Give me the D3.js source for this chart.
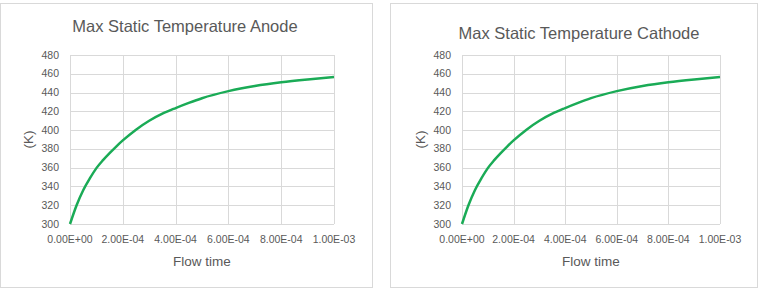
<!DOCTYPE html>
<html>
<head>
<meta charset="utf-8">
<script src="https://cdn.jsdelivr.net/npm/d3@7"></script>
<style>
    body { margin: 0; background: #fff; }
    svg { display: block; }
    text { font-family: "Liberation Sans", Arial, sans-serif; fill: #595959; }
</style>
</head>
<body>
<div id="chart"></div>
<script>
// flow time (s) and max static temperature (K)
const flowTime = [0, 0.25e-4, 0.5e-4, 0.75e-4, 1e-4, 1.25e-4, 1.5e-4, 1.75e-4, 2e-4, 2.5e-4,
    3e-4, 3.5e-4, 4e-4, 4.5e-4, 5e-4, 6e-4, 7e-4, 8e-4, 9e-4, 1e-3];
const anodeTemp = [300, 320, 336, 348.5, 359.5, 368, 375.5, 382.5, 389, 400.5,
    410, 417.5, 423.5, 429, 434, 441.5, 447, 451, 454, 456.5];
const cathodeTemp = [300, 320, 336, 348.5, 359.5, 368, 375.5, 382.5, 389, 400.5,
    410, 417.5, 423.5, 429, 434, 441.5, 447, 451, 454, 456.5];

const xTicks = [0, 2e-4, 4e-4, 6e-4, 8e-4, 1e-3];
const yTicks = [300, 320, 340, 360, 380, 400, 420, 440, 460, 480];

const gridColor = "#d9d9d9";
const lineColor = "#1aab56";

const svg = d3.select("#chart").append("svg")
    .attr("width", 762)
    .attr("height", 292);

function drawPanel(cfg) {
    // outer chart box
    svg.append("rect")
        .attr("x", cfg.box[0] + 0.5)
        .attr("y", cfg.box[1] + 0.5)
        .attr("width", cfg.box[2])
        .attr("height", cfg.box[3])
        .attr("fill", "#fff")
        .attr("stroke", gridColor);

    let x = d3.scaleLinear().domain([0, 1e-3]).range([cfg.left, cfg.right]);
    let y = d3.scaleLinear().domain([300, 480]).range([cfg.bottom, cfg.top]);

    let g = svg.append("g");

    // gridlines
    g.selectAll(".hgrid").data(yTicks).enter().append("line")
        .attr("x1", cfg.left).attr("x2", cfg.right)
        .attr("y1", d => Math.round(y(d)) + 0.5).attr("y2", d => Math.round(y(d)) + 0.5)
        .attr("stroke", gridColor);
    g.selectAll(".vgrid").data(xTicks).enter().append("line")
        .attr("y1", cfg.top).attr("y2", cfg.bottom)
        .attr("x1", d => Math.round(x(d)) + 0.5).attr("x2", d => Math.round(x(d)) + 0.5)
        .attr("stroke", gridColor);

    // tick labels
    g.selectAll(".ylab").data(yTicks).enter().append("text")
        .attr("x", cfg.left - 11)
        .attr("y", d => y(d) + 3.6)
        .attr("text-anchor", "end")
        .attr("font-size", 10.5)
        .text(d => d);
    g.selectAll(".xlab").data(xTicks).enter().append("text")
        .attr("x", d => x(d))
        .attr("y", cfg.bottom + 19)
        .attr("text-anchor", "middle")
        .attr("font-size", 10.5)
        .text(d => d3.format(".2e")(d).toUpperCase().replace(/E([+-])(\d)$/, "E$10$2"));

    // the curve
    let line = d3.line()
        .x((d, i) => x(flowTime[i]))
        .y(d => y(d))
        .curve(d3.curveMonotoneX);
    g.append("path")
        .datum(cfg.values)
        .attr("d", line)
        .attr("fill", "none")
        .attr("stroke", lineColor)
        .attr("stroke-width", 2.5);

    // titles
    svg.append("text")
        .attr("x", cfg.titleX)
        .attr("y", cfg.titleY)
        .attr("text-anchor", "middle")
        .attr("font-size", 16.5)
        .text(cfg.title);
    svg.append("text")
        .attr("x", (cfg.left + cfg.right) / 2)
        .attr("y", cfg.bottom + 42)
        .attr("text-anchor", "middle")
        .attr("font-size", 13.5)
        .text("Flow time");
    svg.append("text")
        .attr("transform", `translate(${cfg.yLabelX}, ${(cfg.top + cfg.bottom) / 2}) rotate(-90)`)
        .attr("text-anchor", "middle")
        .attr("font-size", 13.5)
        .text("(K)");
}

drawPanel({
    title: "Max Static Temperature Anode",
    values: anodeTemp,
    box: [0, 3, 372, 284],
    left: 70, right: 334, top: 55, bottom: 224,
    titleX: 185, titleY: 32, yLabelX: 33
});

drawPanel({
    title: "Max Static Temperature Cathode",
    values: cathodeTemp,
    box: [390, 3, 367, 284],
    left: 462, right: 720, top: 55, bottom: 224,
    titleX: 579, titleY: 39, yLabelX: 425
});
</script>
</body>
</html>
